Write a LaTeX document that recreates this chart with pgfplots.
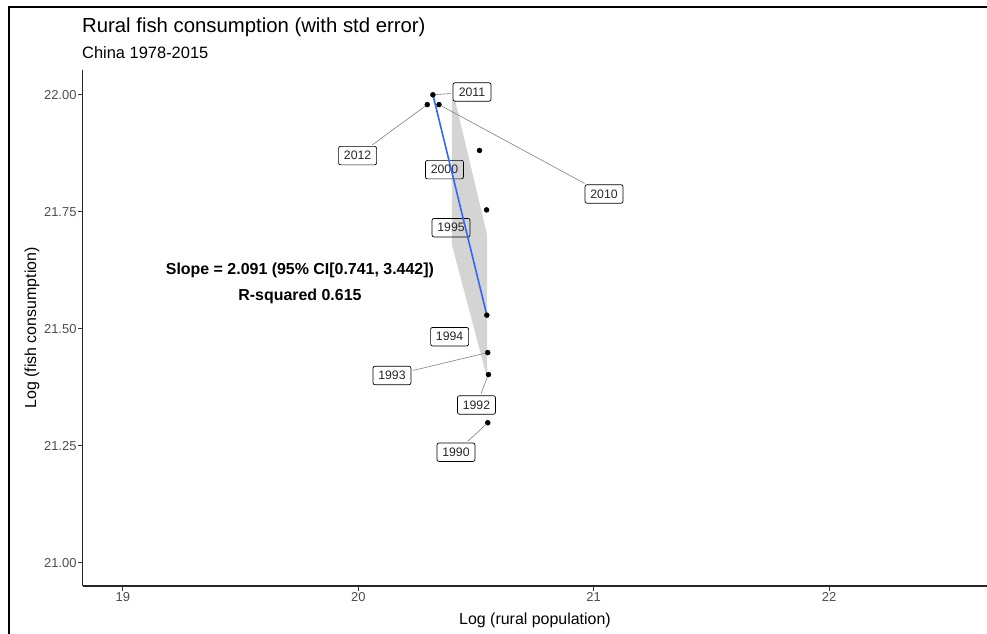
\documentclass[border=0pt]{standalone}
\usepackage{fontspec}
\setmainfont{Liberation Sans}
\usepackage{pgfplots}
\pgfplotsset{compat=1.18}
\definecolor{smoothblue}{HTML}{3366FF}
\definecolor{bandgray}{HTML}{D4D4D4}
\definecolor{ticktext}{HTML}{4D4D4D}
\definecolor{seggray}{HTML}{7F7F7F}

% regression band (upper/lower edges traced as one polygon)
\pgfplotstableread{
x       y
20.398  21.989
20.411  21.989
20.547  21.701
20.547  21.395
20.398  21.679
}\bandtable

% yearly observations
\pgfplotstableread{
year  x       y
2011  20.317  22.000
2012  20.293  21.979
2010  20.343  21.979
2000  20.515  21.881
1995  20.545  21.754
1994  20.546  21.529
1993  20.550  21.449
1992  20.553  21.402
1990  20.550  21.299
}\obs

\begin{document}
\begin{tikzpicture}[x=1bp,y=1bp,
  seg/.style={draw=seggray, line width=0.6bp, shorten <=3bp, shorten >=2bp},
  lbl/.style={draw=black, line width=0.7bp, rounded corners=2bp, inner xsep=0pt,
    inner ysep=0pt, minimum width=38bp, minimum height=18.5bp,
    font=\fontsize{12.3}{14}\selectfont, text=black!85}]
\clip (0,0) rectangle (987,-634);
\draw[line width=2.4bp] (9,-7) rectangle (1010,-660);

\node[anchor=west, inner sep=0pt] at (82,-27)
  {\fontsize{20.4}{22}\selectfont Rural fish consumption (with std error)};
\node[anchor=west, inner sep=0pt] at (82,-53)
  {\fontsize{16.5}{18}\selectfont China 1978-2015};
\node[inner sep=0pt] at (535,-620)
  {\fontsize{16}{18}\selectfont Log (rural population)};
\node[inner sep=0pt, rotate=90] at (32,-328)
  {\fontsize{16}{18}\selectfont Log (fish consumption)};

\begin{axis}[
  at={(82.7bp,-586bp)}, anchor=south west,
  scale only axis, width=904bp, height=516bp,
  xmin=18.829, xmax=22.67, ymin=20.950, ymax=22.053,
  axis x line*=bottom, axis y line*=left,
  axis line style={line width=1.1bp, draw=black!85, -},
  xtick={19,20,21,22},
  ytick={21,21.25,21.5,21.75,22},
  y tick label style={/pgf/number format/fixed, /pgf/number format/fixed zerofill,
    /pgf/number format/precision=2},
  /pgf/number format/assume math mode=true,
  tick align=outside, major tick length=4.5bp,
  tick style={line width=0.9bp, color=black!80},
  ticklabel style={font=\fontsize{13}{15}\selectfont, text=ticktext},
  yticklabel style={inner sep=1.5bp},
  xticklabel style={inner sep=2bp},
  clip=false,
]

\addplot[fill=bandgray, draw=none] table[x=x, y=y] {\bandtable} -- cycle;

% year labels with leader segments
\node[lbl] (l2011) at (axis cs:20.483,22.006) {2011};
\node[lbl] (l2012) at (axis cs:19.997,21.870) {2012};
\node[lbl] (l2010) at (axis cs:21.044,21.788) {2010};
\node[lbl] (l2000) at (axis cs:20.366,21.840) {2000};
\node[lbl] (l1995) at (axis cs:20.394,21.716) {1995};
\node[lbl] (l1994) at (axis cs:20.388,21.483) {1994};
\node[lbl] (l1993) at (axis cs:20.143,21.400) {1993};
\node[lbl] (l1992) at (axis cs:20.502,21.337) {1992};
\node[lbl] (l1990) at (axis cs:20.415,21.236) {1990};
\draw[seg] (axis cs:20.317,22.000) -- (l2011);
\draw[seg] (axis cs:20.293,21.979) -- (l2012);
\draw[seg] (axis cs:20.343,21.979) -- (l2010);
\draw[seg] (axis cs:20.550,21.449) -- (l1993);
\draw[seg] (axis cs:20.553,21.402) -- (l1992);
\draw[seg] (axis cs:20.550,21.299) -- (l1990);

\addplot[smoothblue, line width=1.6bp] coordinates {(20.317,22.000) (20.546,21.529)};

\addplot[only marks, mark=*, mark size=2.5bp, black] table[x=x, y=y] {\obs};

\node[font=\bfseries\fontsize{16}{18}\selectfont] at (axis cs:19.752,21.624)
  {Slope = 2.091 (95\% CI[0.741, 3.442])};
\node[font=\bfseries\fontsize{16}{18}\selectfont] at (axis cs:19.752,21.570)
  {R-squared 0.615};
\end{axis}
\end{tikzpicture}
\end{document}
